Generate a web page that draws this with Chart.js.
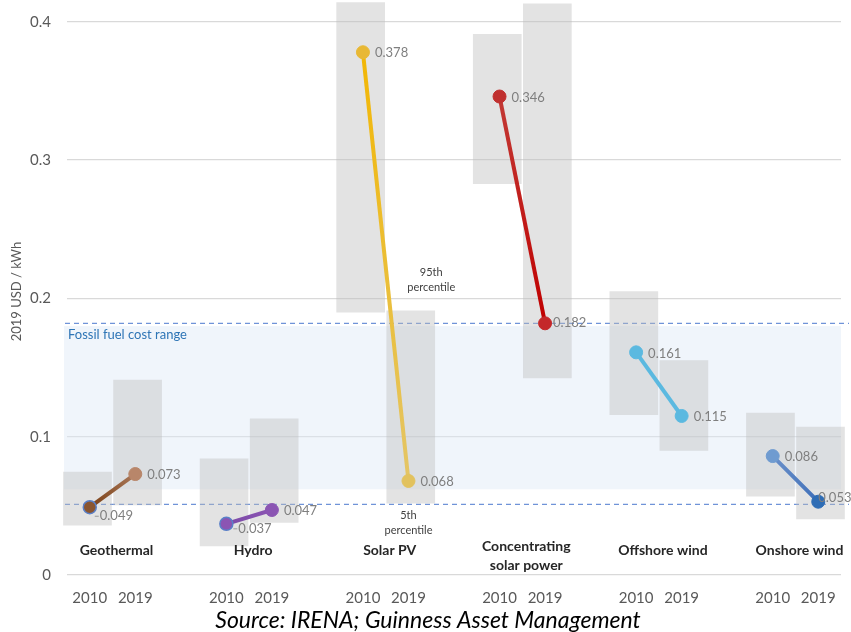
<!DOCTYPE html>
<html>
<head>
<meta charset="utf-8">
<script src="https://cdn.jsdelivr.net/npm/chart.js@4.4.1/dist/chart.umd.min.js"></script>
<style>
  html, body { margin: 0; padding: 0; background: #fff; }
  #wrap { width: 851px; height: 632px; }
</style>
</head>
<body>
<div id="wrap"><canvas id="chart"></canvas></div>
<script>
// LCOE by technology, 2010 vs 2019 (USD/kWh)
const technologies = ['Geothermal', 'Hydro', 'Solar PV', ['Concentrating', 'solar power'], 'Offshore wind', 'Onshore wind'];
const years = ['2010', '2019'];
const lcoe2010 = [0.049, 0.037, 0.378, 0.346, 0.161, 0.086];
const lcoe2019 = [0.073, 0.047, 0.068, 0.182, 0.115, 0.053];
// 5th / 95th percentile ranges
const p5of2010 = [0.036, 0.021, 0.190, 0.283, 0.116, 0.057];
const p95of2010 = [0.0745, 0.084, 0.414, 0.391, 0.205, 0.117];
const p5of2019 = [0.0506, 0.038, 0.052, 0.1425, 0.090, 0.0405];
const p95of2019 = [0.141, 0.113, 0.191, 0.413, 0.155, 0.107];
const fossilRange = [0.051, 0.182];
const fossilBand = [0.062, 0.180];
const yTicks = [0, 0.1, 0.2, 0.3, 0.4];
const sourceNote = 'Source: IRENA; Guinness Asset Management';

// colours: [2010 point, 2019 point, line start, line end]
const colours = [
    ['#8a5530', '#b8866a', '#7a3f14', '#a9785a'],
    ['#8b55b3', '#8b55b3', '#7c4aa8', '#8b55b3'],
    ['#e8b834', '#e2c25e', '#f2b705', '#e4c566'],
    ['#c0302f', '#c4282a', '#c23a35', '#c00000'],
    ['#5bb9e0', '#5bb9e0', '#5bb9e0', '#5bb9e0'],
    ['#6f9bd0', '#2f6db5', '#6a90ca', '#3f6fb8']
];
const edge2010 = ['#5a80c8', '#5a80c8', null, null, null, null];

const FONT = 'Lato, "Noto Sans", sans-serif';
const slot = (g, yr) => g * 3 + yr;        // x position on the linear axis
const boxShift = 0.55;                     // boxes sit a bit wider than the points
const labelNudge = { '0-0': [10, 9], '1-0': [12, 5], '3-1': [8, 0], '5-1': [0, -4] };

const boxes = [];
technologies.forEach((t, g) => {
    boxes.push({ x: g * 3 + 0.5 - boxShift, y: [p5of2010[g], p95of2010[g]] });
    boxes.push({ x: g * 3 + 0.5 + boxShift, y: [p5of2019[g], p95of2019[g]] });
});

const lineSets = technologies.map((t, g) => ({
    type: 'line',
    label: Array.isArray(t) ? t.join(' ') : t,
    data: [{ x: slot(g, 0), y: lcoe2010[g] }, { x: slot(g, 1), y: lcoe2019[g] }],
    borderWidth: 4,
    borderColor: colours[g][2],
    pointRadius: 6.5,
    pointBackgroundColor: [colours[g][0], colours[g][1]],
    pointBorderColor: [edge2010[g] || colours[g][0], colours[g][1]],
    pointBorderWidth: [edge2010[g] ? 1.5 : 1, 1],
    segment: {
        borderColor: ctx => {
            const grad = ctx.chart.ctx.createLinearGradient(ctx.p0.x, ctx.p0.y, ctx.p1.x, ctx.p1.y);
            grad.addColorStop(0, colours[g][2]);
            grad.addColorStop(1, colours[g][3]);
            return grad;
        }
    },
    order: 1
}));

const overlay = {
    id: 'overlay',
    beforeDatasetsDraw(chart) {
        const { ctx, chartArea: a, scales: { y } } = chart;
        ctx.save();
        const top = y.getPixelForValue(fossilBand[1]);
        const bot = y.getPixelForValue(fossilBand[0]);
        ctx.fillStyle = 'rgba(222,232,246,0.45)';
        ctx.fillRect(a.left - 3, top, a.right - a.left + 3, bot - top);
        ctx.setLineDash([5, 4]);
        ctx.strokeStyle = '#6f93d8';
        ctx.lineWidth = 1.3;
        fossilRange.forEach(v => {
            const py = y.getPixelForValue(v);
            ctx.beginPath();
            ctx.moveTo(a.left - 2, py);
            ctx.lineTo(a.right + 8, py);
            ctx.stroke();
        });
        ctx.setLineDash([]);
        ctx.fillStyle = '#2e75b6';
        ctx.font = '13px ' + FONT;
        ctx.textAlign = 'left';
        ctx.textBaseline = 'middle';
        ctx.fillText('Fossil fuel cost range', a.left + 1, y.getPixelForValue(fossilRange[1]) + 12);
        ctx.restore();
    },
    afterDatasetsDraw(chart) {
        const { ctx, scales: { x, y } } = chart;
        ctx.save();
        // value labels
        ctx.font = '13px ' + FONT;
        ctx.fillStyle = '#7f7f7f';
        ctx.textAlign = 'left';
        ctx.textBaseline = 'middle';
        technologies.forEach((t, g) => {
            const meta = chart.getDatasetMeta(g + 1);
            [lcoe2010[g], lcoe2019[g]].forEach((v, yr) => {
                const pt = meta.data[yr];
                const [dx, dy] = labelNudge[g + '-' + yr] || [12, 1];
                if (labelNudge[g + '-' + yr] && dy > 4) {
                    ctx.strokeStyle = '#9a9a9a';
                    ctx.lineWidth = 1;
                    ctx.beginPath();
                    ctx.moveTo(pt.x + dx - 5, pt.y + dy);
                    ctx.lineTo(pt.x + dx - 1, pt.y + dy);
                    ctx.stroke();
                }
                ctx.fillText(v.toFixed(3), pt.x + dx, pt.y + dy);
            });
        });
        // technology names
        ctx.font = 'bold 14px ' + FONT;
        ctx.fillStyle = '#262626';
        ctx.textAlign = 'center';
        technologies.forEach((t, g) => {
            const cx = x.getPixelForValue(g * 3 + 0.5) + 4;
            if (Array.isArray(t)) {
                ctx.fillText(t[0], cx, y.getPixelForValue(0.0203));
                ctx.fillText(t[1], cx, y.getPixelForValue(0.0072));
            } else {
                ctx.fillText(t, cx, y.getPixelForValue(0.0175));
            }
        });
        // percentile notes
        ctx.font = '11px ' + FONT;
        ctx.fillStyle = '#404040';
        const nx = x.getPixelForValue(7.5), sx = x.getPixelForValue(7);
        ctx.fillText('95th', nx, y.getPixelForValue(0.219));
        ctx.fillText('percentile', nx, y.getPixelForValue(0.2076));
        ctx.fillText('5th', sx, y.getPixelForValue(0.0434));
        ctx.fillText('percentile', sx, y.getPixelForValue(0.0325));
        ctx.restore();
    },
    afterDraw(chart) {
        const { ctx, height } = chart;
        ctx.save();
        ctx.font = 'italic 23px ' + FONT;
        ctx.fillStyle = '#000';
        ctx.textAlign = 'center';
        ctx.textBaseline = 'middle';
        ctx.fillText(sourceNote, 428, height - 11);
        ctx.restore();
    }
};

const xSlots = [];
technologies.forEach((t, g) => years.forEach((yr, i) => xSlots.push(slot(g, i))));

new Chart(document.getElementById('chart'), {
    type: 'bar',
    data: {
        datasets: [{
            type: 'bar',
            label: 'Range',
            data: boxes,
            backgroundColor: 'rgba(188,188,188,0.42)',
            borderWidth: 0,
            barThickness: 48,
            grouped: false,
            clip: false,
            order: 2
        }, ...lineSets]
    },
    options: {
        responsive: true,
        maintainAspectRatio: false,
        animation: false,
        layout: { padding: { left: 0, right: 10, top: 0, bottom: 23 } },
        plugins: {
            legend: { display: false },
            tooltip: { enabled: false }
        },
        scales: {
            x: {
                type: 'linear',
                offset: false,
                min: -0.5,
                max: 16.5,
                grid: { display: false },
                border: { display: false },
                afterBuildTicks: s => { s.ticks = xSlots.map(v => ({ value: v })); },
                ticks: {
                    callback: v => years[v % 3],
                    padding: 6,
                    autoSkip: false,
                    maxRotation: 0,
                    color: '#595959',
                    font: { family: FONT, size: 15 }
                },
                afterFit: s => { s.height = 34; s.paddingLeft = 0; s.paddingRight = 0; }
            },
            y: {
                min: 0,
                max: 0.41,
                afterBuildTicks: s => { s.ticks = yTicks.map(v => ({ value: v })); },
                grid: { color: '#d9d9d9', drawTicks: false, lineWidth: 1.3 },
                border: { display: false },
                ticks: {
                    callback: v => v === 0 ? '0' : v.toFixed(1),
                    padding: 16,
                    color: '#595959',
                    font: { family: FONT, size: 15 }
                },
                title: {
                    display: true,
                    text: '2019 USD / kWh',
                    color: '#595959',
                    font: { family: FONT, size: 13 },
                    padding: { top: 9, bottom: 0 }
                },
                afterFit: s => { s.width = 67; s.paddingTop = 0; s.paddingBottom = 0; }
            }
        }
    },
    plugins: [overlay]
});
</script>
</body>
</html>
